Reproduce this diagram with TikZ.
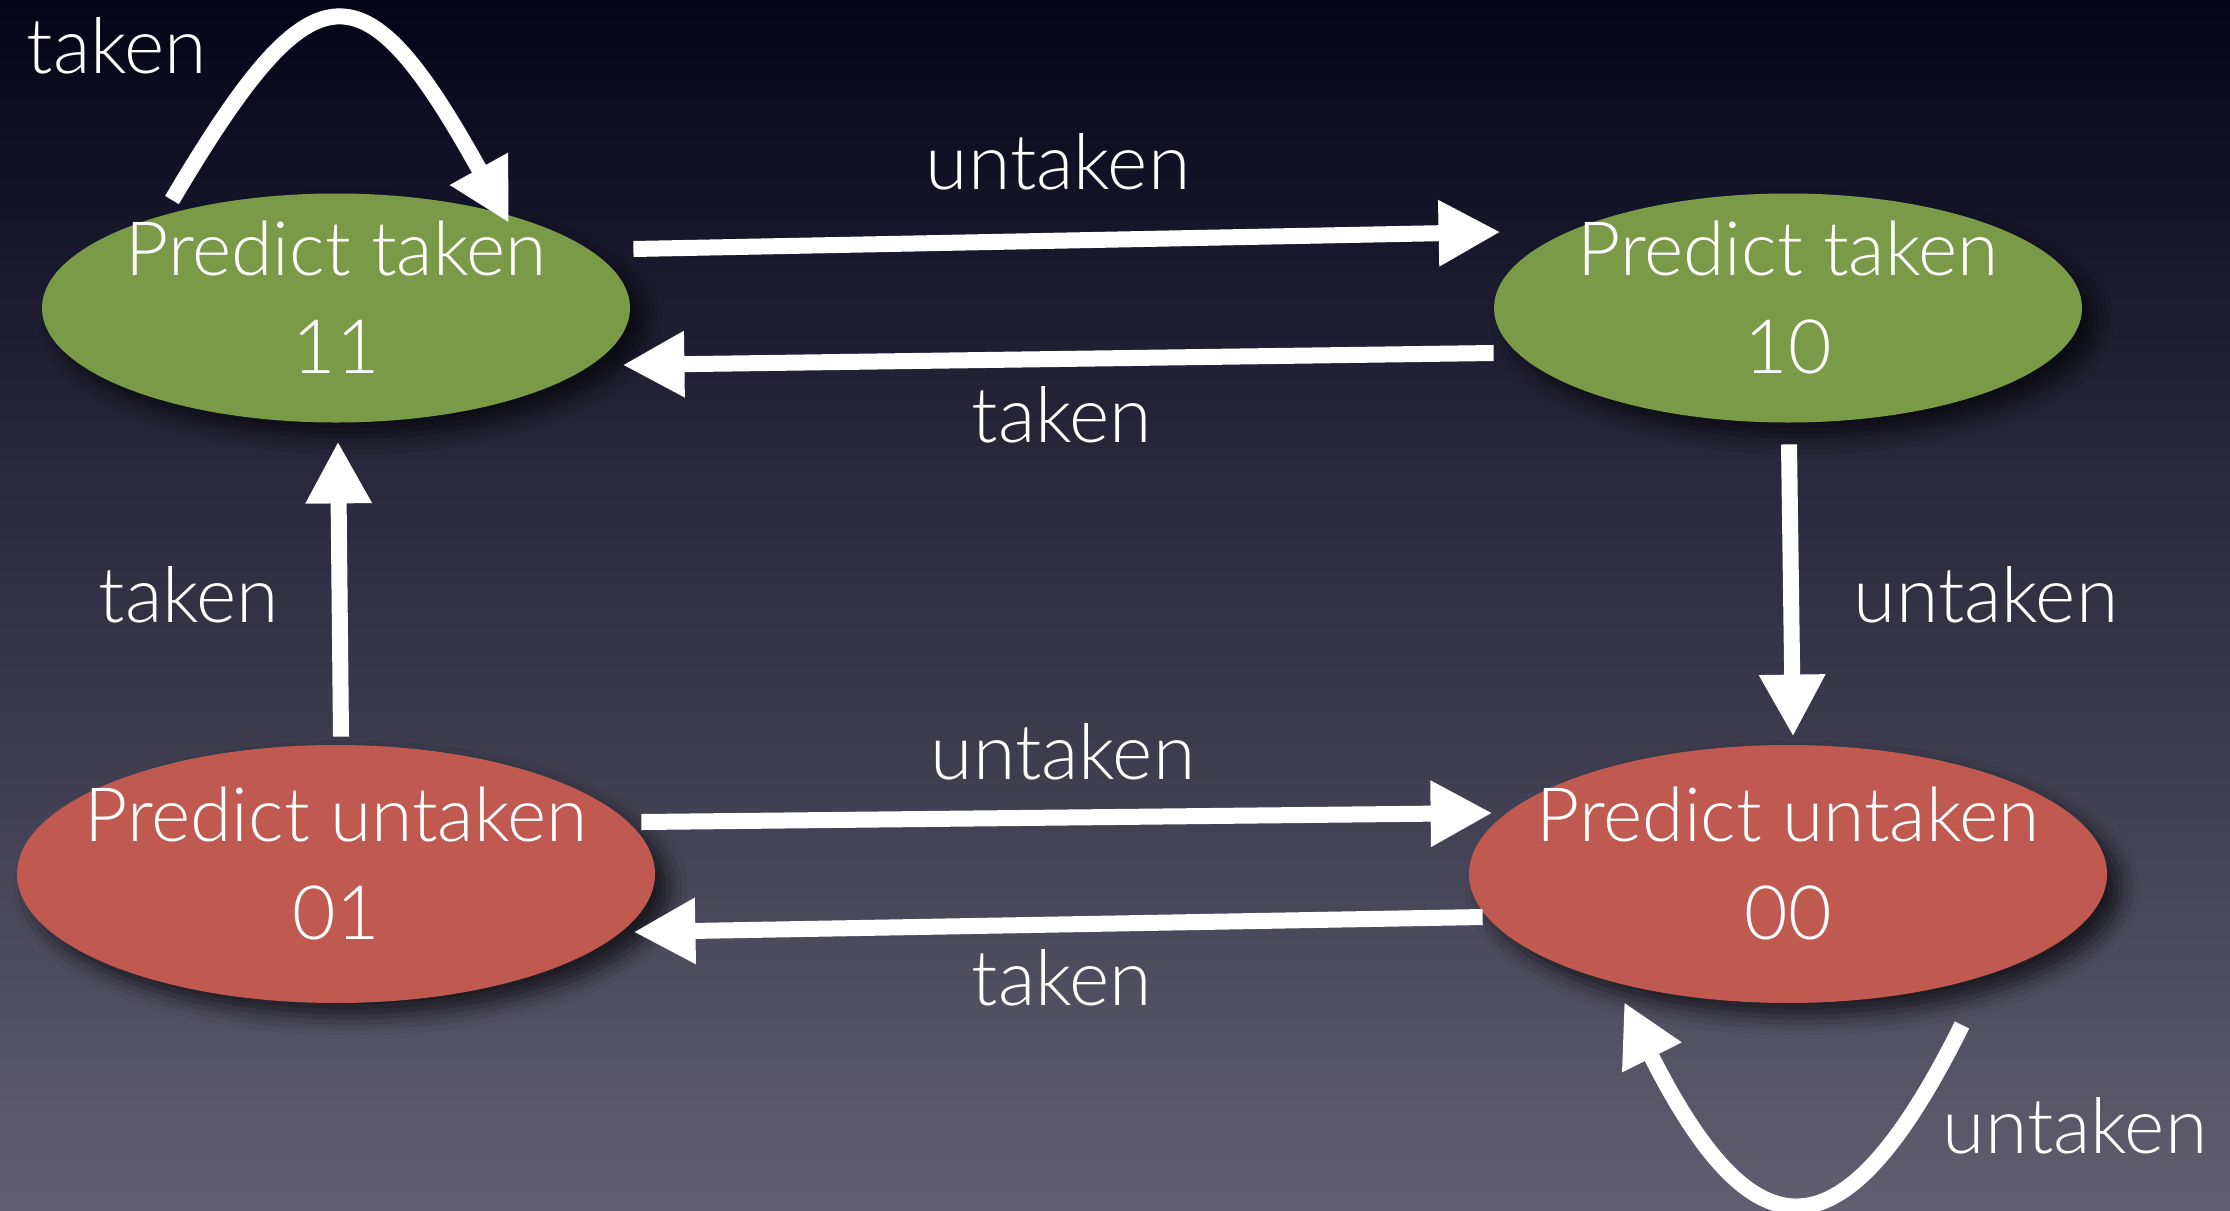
\documentclass[tikz,border=0pt]{standalone}
\usepackage{fontspec}
\setmainfont{Lato Light}
\usetikzlibrary{arrows.meta,shapes.geometric,shadows.blur}

\definecolor{bgtop}{RGB}{5,5,26}
\definecolor{bgmid}{RGB}{44,42,70}
\definecolor{bgbot}{RGB}{96,94,112}
\definecolor{stgreen}{RGB}{121,155,72}
\definecolor{stred}{RGB}{192,90,80}

\begin{document}
\begin{tikzpicture}[x=0.5pt,y=-0.5pt,
  state/.style={ellipse, draw=none, inner sep=0pt,
    blur shadow={shadow xshift=7pt, shadow yshift=-7pt,
                 shadow blur radius=9pt, shadow opacity=65}},
  takenstate/.style={state, fill=stgreen, minimum width=294pt, minimum height=114.5pt},
  untakenstate/.style={state, fill=stred, minimum width=319pt, minimum height=129pt},
  statetext/.style={text=white, align=center, inner sep=0pt, yshift=5.5pt,
    font=\fontsize{37.5}{49}\selectfont},
  edgelabel/.style={text=white, inner sep=0pt, font=\fontsize{38.5}{46}\selectfont},
  trans/.style={draw=white, line width=8pt,
    -{Triangle[length=31pt, width=31pt]}}
]
% backdrop
\shade[top color=bgtop, middle color=bgmid, bottom color=bgbot]
  (0,0) rectangle (2230,1210);
\useasboundingbox (0,0) rectangle (2230,1210);

% the four counter states
\node[takenstate, label={[statetext]center:Predict taken\\11}] (e11) at (336,308) {};
\node[takenstate, label={[statetext]center:Predict taken\\10}] (e10) at (1788,308) {};
\node[untakenstate, label={[statetext]center:Predict untaken\\01}] (e01) at (336,874) {};
\node[untakenstate, label={[statetext]center:Predict untaken\\00}] (e00) at (1788,874) {};

% transitions
\draw[trans] ([shift={(3,-59)}]e11.east) -- ([shift={(7,-76)}]e10.west);
\draw[trans] ([shift={(0,45)}]e10.west) -- ([shift={(-8,57)}]e11.east);
\draw[trans] ([shift={(5,-8)}]e01.north) -- ([shift={(2,18.5)}]e11.south);
\draw[trans] ([shift={(1,21.5)}]e10.south) -- ([shift={(5,-8)}]e00.north);
\draw[trans] ([shift={(-14,-52)}]e01.east) -- ([shift={(24,-61)}]e00.west);
\draw[trans] ([shift={(14,43)}]e00.west) -- ([shift={(-22,58)}]e01.east);

% self loops
\draw[trans] ([shift={(-164,-108)}]e11.center)
  .. controls +(142,-240) and +(-146,-263) .. ([shift={(173,-85)}]e11.center);
\draw[trans] ([shift={(174,151)}]e00.center)
  .. controls +(-118,237) and +(131,260) .. ([shift={(-164,128)}]e00.center);

% transition labels
\node[edgelabel] (l11loop) at (117,46)   {taken};
\node[edgelabel] (l11to10) at (1058,162) {untaken};
\node[edgelabel] (l10to11) at (1062,415) {taken};
\node[edgelabel] (l01to11) at (189,595)  {taken};
\node[edgelabel] (l10to00) at (1986,595) {untaken};
\node[edgelabel] (l01to00) at (1063,752) {untaken};
\node[edgelabel] (l00to01) at (1062,978) {taken};
\node[edgelabel] (l00loop) at (2075,1126) {untaken};
\end{tikzpicture}
\end{document}
